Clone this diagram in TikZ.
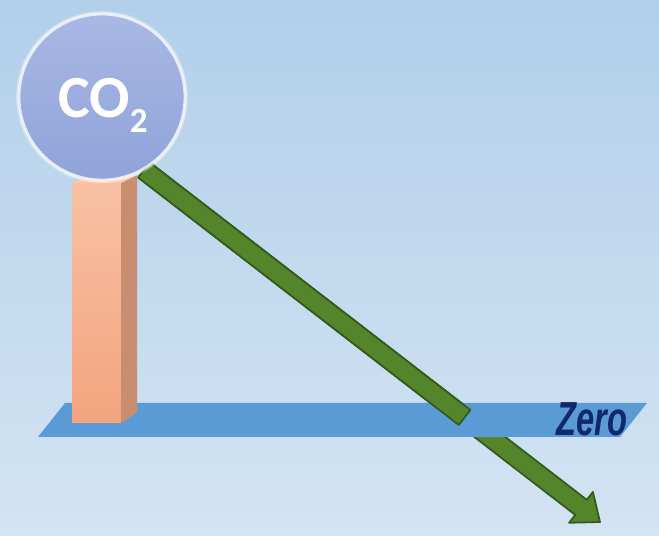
\documentclass[tikz,border=0pt]{standalone}
\usepackage{fontspec}
\setmainfont{Carlito}
\newfontfamily\zerofont{Liberation Sans}
\usetikzlibrary{calc}

\definecolor{bgtop}{HTML}{B2CFEA}
\definecolor{bgbot}{HTML}{D3E4F3}
\definecolor{planeblue}{HTML}{5B9BD5}
\definecolor{barfront1}{HTML}{F8C1A4}
\definecolor{barfront2}{HTML}{F3A47E}
\definecolor{barside}{HTML}{C98D70}
\definecolor{bartop}{HTML}{F9C9AE}
\definecolor{arrowgreen}{HTML}{55852A}
\definecolor{arrowdark}{HTML}{345B1B}
\definecolor{bubble1}{HTML}{A9B8E4}
\definecolor{bubble2}{HTML}{8FA3D9}
\definecolor{zeronavy}{HTML}{132770}

\begin{document}
\begin{tikzpicture}[
  x=0.02cm,
  y=-0.02cm,
  line join=round,
  arrowpart/.style={fill=arrowgreen,draw=arrowdark,line width=1pt},
  bubblestyle/.style={circle,inner sep=0pt,minimum size=3.32cm,
    top color=bubble1,bottom color=bubble2,draw=white,draw opacity=0.75,line width=1.6pt}
]

% Background
\fill[top color=bgtop,bottom color=bgbot] (0,0) rectangle (659,536);
\useasboundingbox (0,0) rectangle (659,536);

% Arrow geometry
\coordinate (start) at (144,170);
\coordinate (tip) at (600,522);
\coordinate (cut) at ($(start)!0.703!(tip)$);
\coordinate (base) at ($(tip)!0.48cm!(start)$);
\coordinate (s1) at ($(start)!0.19cm!90:(tip)$);
\coordinate (s2) at ($(start)!0.19cm!-90:(tip)$);
\coordinate (b1) at ($(base)!0.19cm!90:(tip)$);
\coordinate (b2) at ($(base)!0.19cm!-90:(tip)$);
\coordinate (h1) at ($(base)!0.39cm!90:(tip)$);
\coordinate (h2) at ($(base)!0.39cm!-90:(tip)$);
\coordinate (c1) at ($(cut)!0.19cm!90:(tip)$);
\coordinate (c2) at ($(cut)!0.19cm!-90:(tip)$);

% Whole arrow, below the plane
\draw[arrowpart] (s1) -- (b1) -- (h1) -- (tip) -- (h2) -- (b2) -- (s2) -- cycle;

% Zero plane
\fill[planeblue] (65,403) -- (647,403) -- (620,437) -- (38,437) -- cycle;

% Bar
\fill[top color=barfront1,bottom color=barfront2] (72,183) rectangle (121,423);
\fill[barside] (121,183) -- (137,175) -- (137,413) -- (121,423) -- cycle;
\fill[bartop] (72,183) -- (88,175) -- (137,175) -- (121,183) -- cycle;

% Arrow part above the plane
\draw[arrowpart] (s1) -- (c1) -- (c2) -- (s2) -- cycle;

% CO2 bubble
\node[bubblestyle] (bubble) at (102,97) {};
\draw[white,opacity=0.35,line width=1pt] (bubble.center) circle (85);
\node[anchor=base,text=white,font=\bfseries\fontsize{34}{34}\selectfont] (co2) at (103,118)
  {CO\raisebox{-8.5pt}{\fontsize{20}{20}\selectfont 2}};

% Zero label
\node[anchor=base,text=zeronavy,font=\zerofont\bfseries\itshape\fontsize{32}{32}\selectfont] (zero) at (592,436)
  {\scalebox{0.58}[0.85]{Zero}};

\end{tikzpicture}
\end{document}
